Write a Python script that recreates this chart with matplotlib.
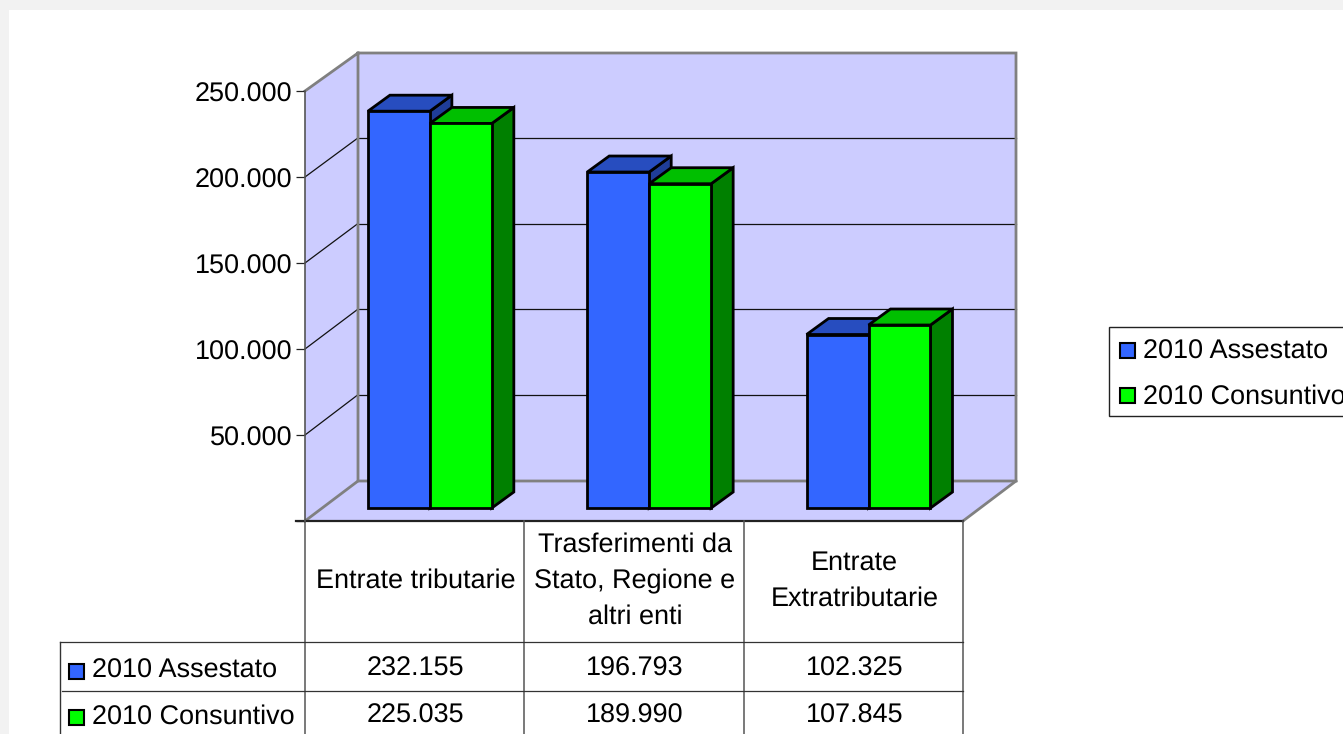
import matplotlib
matplotlib.use("Agg")
import matplotlib.pyplot as plt
from matplotlib.patches import Polygon, Rectangle
from matplotlib.transforms import ScaledTranslation
import numpy as np

categories = ["Entrate tributarie", "Trasferimenti da\nStato, Regione e\naltri enti", "Entrate\nExtratributarie"]
series_names = ["2010 Assestato", "2010 Consuntivo"]
assestato = [232155, 196793, 102325]
consuntivo = [225035, 189990, 107845]
y_ticks = [0, 50000, 100000, 150000, 200000, 250000]
base_value = 1450

W, H = 1343, 734
FS = 19.75
WALL = "#ccccff"
EDGE = "#808080"
FACES = [("#3366ff", "#274dbf", "#1f3d99"), ("#00ff00", "#00bf00", "#008000")]

plt.rcParams["font.family"] = ["Liberation Sans", "DejaVu Sans"]
plt.rcParams["text.hinting"] = "no_hinting"
plt.rcParams["text.hinting_factor"] = 1
fig = plt.figure(figsize=(W / 100, H / 100), dpi=100, facecolor="#f2f2f2")


def axes_px(x0, y_top, x1, y_bottom, **kw):
    return fig.add_axes([x0 / W, 1 - y_bottom / H, (x1 - x0) / W, (y_bottom - y_top) / H], **kw)


def fmt(v):
    return f"{v:,}".replace(",", ".")


# full-figure canvas in pixel units for the frame, table and legend
cv = axes_px(0, 0, W, H, zorder=0)
cv.set_xlim(0, W)
cv.set_ylim(H, 0)
cv.axis("off")
cv.add_patch(Rectangle((9, 10), W, H, fc="white", ec="none"))

# walls and floor
FX0, FX1, FY0, FY1 = 305, 963, 521, 91
BX0, BX1, BY0, BY1 = 358, 1016, 481, 53
cv.add_patch(Polygon([(BX0, BY0), (BX0, BY1), (BX1, BY1), (BX1, BY0)], fc=WALL, ec="none"))
cv.add_patch(Polygon([(FX0, FY0), (FX0, FY1), (BX0, BY1), (BX0, BY0)], fc=WALL, ec="none"))
cv.add_patch(Polygon([(FX0, FY0), (BX0, BY0), (BX1, BY0), (FX1, FY0)], fc=WALL, ec="none"))

# gridlines
ymax = y_ticks[-1]
for v in y_ticks[1:-1]:
    fy = FY0 - v / ymax * (FY0 - FY1)
    by = BY0 - v / ymax * (BY0 - BY1) - 0.7
    cv.plot([FX0, BX0], [fy, by], color="#111111", lw=0.9)
    cv.plot([BX0, BX1], [by, by], color="#111111", lw=0.9)

# wall outlines
for seg in [[(FX0, FY1), (BX0, BY1), (BX1, BY1), (BX1, BY0), (BX0, BY0), (BX0, BY1)],
            [(BX0, BY0), (FX0, FY0)], [(BX1, BY0), (FX1, FY0)]]:
    xs, ys = zip(*seg)
    cv.plot(xs, ys, color=EDGE, lw=2.0, solid_joinstyle="miter")

# value axis on the front plane
ya = axes_px(FX0, FY1, FX1, FY0, zorder=1)
ya.patch.set_alpha(0)
ya.set_xlim(0, 3)
ya.set_ylim(0, ymax)
ya.set_xticks([])
ya.set_yticks(y_ticks)
ya.set_yticklabels([""] + [fmt(v) for v in y_ticks[1:]], fontsize=FS, color="black")
ya.tick_params(axis="y", length=6.5, width=0.9, pad=2.5, color="#222222")
shift = ScaledTranslation(0, -0.7 / 100, fig.dpi_scale_trans)
for lab in ya.get_yticklabels():
    lab.set_transform(lab.get_transform() + shift)
for s in ["top", "right", "bottom"]:
    ya.spines[s].set_visible(False)
ya.spines["left"].set_color("#555555")
ya.spines["left"].set_linewidth(1.2)

# bars on a plane shifted into the depth of the chart
PDX, PDY = 15.2, 10.5
ba = axes_px(FX0 + PDX, FY1 - PDY, FX1 + PDX, FY0 - PDY, zorder=2)
ba.axis("off")
ba.set_xlim(0, 3)
ba.set_ylim(0, ymax)
BAR_W = 0.2825
DX = 22 / ((FX1 - FX0) / 3)
DY = 16 / ((FY0 - FY1) / ymax)
LW = 2.0
for i in range(len(categories)):
    for j, vals in enumerate([assestato, consuntivo]):
        x0 = i + 0.5 + (j - 1) * BAR_W
        x1 = x0 + BAR_W
        v = vals[i]
        front, top, side = FACES[j]
        kw = dict(ec="black", lw=LW, joinstyle="miter", clip_on=False)
        ba.add_patch(Polygon([(x1, base_value), (x1 + DX, base_value + DY), (x1 + DX, v + DY), (x1, v)], fc=side, zorder=2 + j, **kw))
        ba.add_patch(Polygon([(x0, v), (x0 + DX, v + DY), (x1 + DX, v + DY), (x1, v)], fc=top, zorder=2 + j, **kw))
        ba.add_patch(Rectangle((x0, base_value), BAR_W, v - base_value, fc=front, zorder=2 + j, **kw))

# data table
TC = "#333333"
col_x = [FX0 + i * (FX1 - FX0) / 3 for i in range(4)]
ROW1, ROW2 = 642, 691
TL = 60
cv.plot([FX0 - 9, FX1], [FY0, FY0], color="#222222", lw=1.6)
for x in col_x:
    cv.plot([x, x], [FY0, H], color="#555555", lw=1.1)
cv.plot([TL, FX1], [ROW1, ROW1], color=TC, lw=0.9)
cv.plot([TL + 2, FX1], [ROW2, ROW2], color=TC, lw=0.9)
cv.plot([TL, TL], [ROW1, H], color=TC, lw=1.0)
for i, c in enumerate(categories):
    cx = (col_x[i] + col_x[i + 1]) / 2 + 1
    cv.text(cx, 581, c, ha="center", va="center", fontsize=FS, linespacing=1.55, color="black")
    cv.text(cx, 669, fmt(assestato[i]), ha="center", va="center", fontsize=FS)
    cv.text(cx, 716, fmt(consuntivo[i]), ha="center", va="center", fontsize=FS)
for name, (front, _, _), y in zip(series_names, FACES, [671, 717]):
    cv.add_patch(Rectangle((69, y - 7.5), 15, 15, fc=front, ec="black", lw=1.5))
    cv.text(92, y - 0.5, name, ha="left", va="center", fontsize=FS)

# legend
cv.add_patch(Rectangle((1109, 327), W, 89, fc="white", ec="#222222", lw=1.0))
for name, (front, _, _), y in zip(series_names, FACES, [350, 395]):
    cv.add_patch(Rectangle((1120, y - 7.5), 15, 15, fc=front, ec="black", lw=1.5))
    cv.text(1143, y + 1.5, name, ha="left", va="center", fontsize=FS)

fig.savefig("out.png", dpi=100, facecolor=fig.get_facecolor())
